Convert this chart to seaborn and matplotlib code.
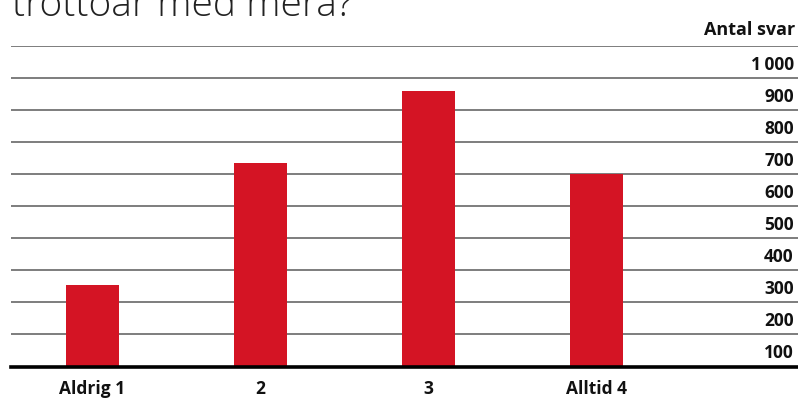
import matplotlib
matplotlib.use("Agg")
import matplotlib.pyplot as plt
import seaborn as sns
import pandas as pd

categories = ["Aldrig 1", "2", "3", "Alltid 4"]
values = [254, 634, 859, 600]
y_ticks = [100, 200, 300, 400, 500, 600, 700, 800, 900, 1000]
y_tick_labels = ["100", "200", "300", "400", "500", "600", "700", "800", "900", "1\u2009000"]
title_text = "trottoar med mera?"
unit_label = "Antal svar"

sns.set_theme(style="white")
plt.rcParams["font.family"] = ["Open Sans", "DejaVu Sans"]

df = pd.DataFrame({"kategori": categories, "antal": values})

fig = plt.figure(figsize=(7.98, 4.02), dpi=100)
ax = fig.add_axes([11 / 798, 1 - 367.5 / 402, (798 - 11) / 798, (367.5 - 46.7) / 402])

sns.barplot(data=df, x="kategori", y="antal", color="#d41424", width=0.315,
            saturation=1, linewidth=0, edgecolor="none", ax=ax, zorder=3)

ax.set_xlim(-0.485, 4.2)
ax.set_ylim(0, 1000)
ax.set_xlabel("")
ax.set_ylabel("")

# gridlines at major ticks
ax.set_yticks(y_ticks)
ax.yaxis.grid(True, color="#5a5a5a", linewidth=1.1, zorder=0)
ax.tick_params(axis="y", which="major", left=False, right=False,
               labelleft=False, labelright=False)

# labels placed midway between gridlines (below each line)
mids = [t - 50 for t in y_ticks]
ax.set_yticks(mids, minor=True)
ax.set_yticklabels(y_tick_labels, minor=True)
ax.tick_params(axis="y", which="minor", left=False, right=False, labelleft=False,
               labelright=True, length=0, pad=-3, labelsize=12.5)
for lbl in ax.get_yticklabels(minor=True):
    lbl.set_ha("right")
    lbl.set_fontweight("bold")
    lbl.set_color("#111111")

ax.tick_params(axis="x", length=0, pad=9, labelsize=12.5, colors="#111111")
for lbl in ax.get_xticklabels():
    lbl.set_fontweight("bold")

for s in ["top", "left", "right"]:
    ax.spines[s].set_visible(False)
ax.spines["bottom"].set_color("black")
ax.spines["bottom"].set_linewidth(2.6)
ax.spines["bottom"].set_zorder(5)

fig.text(795 / 798, 1 - 30 / 402, unit_label, ha="right", va="center",
         fontsize=13, fontweight="bold", color="#111111")
fig.text(12 / 798, 1 - 16 / 402, title_text, ha="left", va="baseline",
         fontsize=28, fontweight="light", color="#222222")

fig.savefig("out.png", dpi=100)
